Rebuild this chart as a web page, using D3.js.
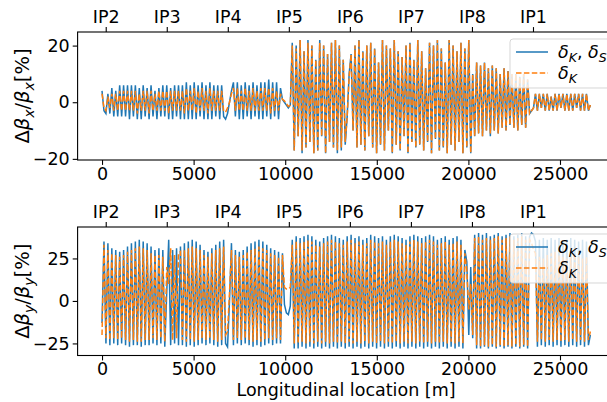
<!DOCTYPE html>
<html>
<head>
<meta charset="utf-8">
<script src="https://cdn.jsdelivr.net/npm/d3@7"></script>
<style>
  body { margin: 0; background: #fff; }
  text { font-family: "DejaVu Sans", sans-serif; fill: #000; }
</style>
</head>
<body>
<div id="container"></div>
<script>
const width = 607;
const height = 402;

// ring length in metres, samples are spread evenly over it
const ringLength = 26659;
const xTicks = [0, 5000, 10000, 15000, 20000, 25000];
const ipNames = ["IP2", "IP3", "IP4", "IP5", "IP6", "IP7", "IP8", "IP1"];
const ipPos = [202, 3534, 6866, 10198, 13530, 16862, 20194, 23526];
const yTicksX = [-20, 0, 20];
const yTicksY = [-25, 0, 25];

// horizontal beta-beating [%], δK, δS
const betaXKS = [
  4, -3, -4, 3, -4, 5, -5, 4, -5, 6,
  -5, 6, -5, 6, -6, 6, -5, 6, -6, 5,
  -6, 6, -5, 5, -6, 6, -5, 4, -6, 5,
  -5, 6, -5, 6, -6, 5, -6, 6, -5, 6,
  -6, 6, -6, 7, -6, 6, -6, 7, -6, 6,
  -5, 7, -6, 6, -6, 7, -6, 6, -5, 6,
  -6, 6, -5, -6, -4, 0, 4, 7, -5, 7,
  -6, 6, -6, 7, -5, 6, -6, 7, -5, 6,
  -6, 7, -6, 7, -5, 8, -6, 7, -5, 7,
  -6, 5, 1, 0, -1, -2, -1, 21, -17, 20,
  -12, 22, -18, 18, -16, 22, -14, 20, -18, 15,
  -17, 22, -12, 20, -18, 17, -14, 21, -16, 22,
  -18, 20, -17, 15, -15, -5, 10, 17, -10, 20,
  -16, 22, -15, 18, -17, 20, -12, 21, -16, 19,
  -18, 14, -15, 22, -17, 20, -10, 19, -18, 22,
  -15, 18, -17, 16, -12, 20, -18, 21, -14, 15,
  -16, 22, -15, 18, -17, 12, -14, 21, -18, 20,
  -13, 22, -17, 19, -16, 14, -18, 22, -15, 20,
  -17, 18, -14, 21, -18, 19, -16, 22, -18, 10,
  -12, 14, -11, 13, -12, 14, -10, 12, -12, 13,
  -10, 12, -11, 10, -9, 12, -10, 11, -8, 10,
  -9, 10, -10, 9, -8, 10, -9, 8, -4, -3,
  -2, 3, -3, 3, -2, 3, -3, 3, -3, 2,
  -3, 3, -3, 3, -2, 3, -3, 3, -3, 3,
  -3, 3, -2, 3, -3, 3, -3, 3, -3, -1
];

// horizontal beta-beating [%], δK only
const betaXK = [
  3, -2, -3, 2, -2, 3, -3, 3, -3, 4,
  -3, 4, -3, 4, -3, 4, -3, 4, -4, 3,
  -3, 4, -3, 4, -4, 4, -3, 3, -3, 4,
  -3, 4, -3, 4, -4, 4, -3, 4, -3, 4,
  -3, 4, -4, 5, -3, 4, -3, 5, -4, 4,
  -3, 5, -3, 4, -4, 5, -3, 4, -3, 4,
  -3, 4, -3, -3.5, -2, 0, 3, 5, -3, 5,
  -3, 4, -3, 5, -3, 4, -3, 5, -3, 4,
  -3, 5, -3, 5, -3, 5, -4, 5, -3, 4,
  -3, 3, 1, 0.5, -0.5, -1.5, -1, 20, -17, 19,
  -12, 22, -17, 18, -16, 21, -14, 20, -18, 15,
  -17, 21, -12, 20, -18, 17, -14, 21, -16, 22,
  -17, 20, -16, 15, -14, -5, 9, 17, -10, 20,
  -16, 22, -15, 18, -17, 20, -12, 21, -16, 19,
  -18, 14, -15, 22, -17, 20, -10, 19, -18, 22,
  -15, 18, -17, 16, -12, 20, -18, 21, -14, 15,
  -16, 22, -15, 18, -17, 12, -14, 21, -18, 20,
  -13, 22, -17, 19, -16, 14, -18, 22, -15, 20,
  -17, 18, -14, 21, -18, 19, -16, 22, -18, 10,
  -12, 14, -11, 13, -12, 14, -10, 12, -11, 13,
  -10, 12, -11, 10, -9, 12, -10, 11, -8, 10,
  -9, 10, -10, 9, -8, 10, -9, 8, -4, -3,
  -2, 3, -3, 3, -2, 3, -3, 3, -3, 2,
  -3, 3, -3, 3, -2, 3, -3, 3, -3, 3,
  -3, 3, -2, 3, -3, 3, -3, 3, -3, -1
];

// vertical beta-beating [%], δK, δS
const betaYKS = [
  -13, 35, -25, 34, -26, 31, -25, 30, -26, 29,
  -25, 30, -26, 32, -27, 34, -26, 35, -26, 36,
  -27, 35, -26, 34, -26, 32, -25, 30, -26, 31,
  -25, 30, -27, 5, 36, -26, 30, -25, 31, -26,
  32, -26, 34, -27, 35, -26, 36, -27, 35, -26,
  33, -25, 30, -26, 29, -25, 31, -26, 33, -27,
  35, -26, 36, -25, -27, 0, 34, -26, 30, -25,
  29, -26, 30, -25, 32, -26, 34, -27, 35, -26,
  36, -27, 35, -26, 33, -25, 31, -26, 30, -25,
  29, -25, 28, -2, -7, -8, -3, 36, -28, 38,
  -28, 37, -27, 38, -28, 39, -27, 38, -28, 36,
  -27, 35, -28, 37, -27, 38, -28, 39, -27, 38,
  -28, 37, -27, 36, -28, 38, -27, 39, -28, 37,
  -27, 38, -28, 36, -27, 37, -28, 39, -27, 38,
  -28, 37, -27, 38, -28, 36, -27, 38, -28, 39,
  -27, 38, -28, 37, -27, 36, -28, 38, -27, 39,
  -28, 38, -27, 37, -28, 38, -27, 39, -28, 38,
  -27, 36, -28, 37, -27, 38, -28, 36, -27, 37,
  -28, 38, -27, 36, -28, 30, 23, -20, 20, -22,
  39, -28, 40, -28, 39, -27, 40, -28, 38, -27,
  39, -28, 40, -27, 38, -28, 39, -27, 40, -28,
  38, -27, 39, -28, 40, -27, 38, -28, 38, 40,
  39, 35, -27, 36, -26, 37, -27, 36, -26, 37,
  -27, 36, -26, 37, -27, 35, -26, 36, -27, 37,
  -26, 36, -27, 35, -26, 36, -27, 35, -26, -20
];

// vertical beta-beating [%], δK only
const betaYK = [
  -20, 33, -22, 30, -23, 28, -22, 27, -23, 26,
  -22, 27, -23, 29, -24, 30, -23, 31, -24, 32,
  -24, 31, -23, 30, -23, 28, -22, 27, -23, 27,
  -22, 26, -24, 20, 10, 31, -23, 27, -22, 28,
  29, -23, 30, -24, 31, -23, 32, -24, 31, -23,
  30, -22, 27, -23, 26, -22, 28, -23, 30, -24,
  31, -23, 32, -20, -18, 5, 30, -23, 27, -22,
  26, -23, 27, -22, 29, -23, 30, -24, 31, -23,
  32, -24, 31, -23, 30, -22, 28, -23, 27, -22,
  26, -23, 27, 8, 7, 7, 8, 33, -25, 35,
  -25, 34, -24, 35, -25, 36, -24, 35, -25, 33,
  -24, 32, -25, 34, -24, 35, -25, 36, -24, 35,
  -25, 34, -24, 33, -25, 35, -24, 36, -25, 34,
  -24, 35, -25, 33, -24, 34, -25, 36, -24, 35,
  -25, 34, -24, 35, -25, 33, -24, 35, -25, 36,
  -24, 35, -25, 34, -24, 33, -25, 35, -24, 36,
  -25, 35, -24, 34, -25, 35, -24, 36, -25, 35,
  -24, 33, -25, 34, -24, 35, -25, 33, -24, 34,
  -25, 35, -24, 33, -25, 28, 18, -5, 10, -20,
  37, -26, 38, -27, 36, -26, 37, -27, 36, -26,
  37, -27, 38, -26, 36, -27, 37, -26, 38, -27,
  36, -26, 37, -27, 38, -26, 36, -27, 36, 34,
  30, 28, -24, 26, -23, 25, -24, 27, -23, 28,
  -24, 29, -23, 27, -24, 26, -23, 25, -24, 27,
  -23, 28, -24, 26, -23, 25, -24, 26, -23, -18
];

const blue = "#1f77b4";
const orange = "#ff7f0e";
const fontSize = 17.5;

const svg = d3.select("#container")
    .append("svg")
    .attr("width", width)
    .attr("height", height)
    .attr("viewBox", [0, 0, width, height]);

const x = d3.scaleLinear()
    .domain([-1333, 27992])
    .range([77.6, 614.8]);

const step = ringLength / (betaXKS.length - 1);

function drawPanel(id, top, bottom, yDomain, yTicks, ks, k, plane) {
    const y = d3.scaleLinear().domain(yDomain).range([bottom, top]);
    const g = svg.append("g");

    g.append("clipPath").attr("id", "clip" + id)
        .append("rect")
        .attr("x", x.range()[0]).attr("y", top)
        .attr("width", x.range()[1] - x.range()[0]).attr("height", bottom - top);

    const line = d3.line()
        .x((d, i) => x(i * step))
        .y(d => y(d));

    const plot = g.append("g").attr("clip-path", `url(#clip${id})`);
    plot.append("path")
        .attr("d", line(ks))
        .attr("fill", "none")
        .attr("stroke", blue)
        .attr("stroke-width", 1.5);
    plot.append("path")
        .attr("d", line(k))
        .attr("fill", "none")
        .attr("stroke", orange)
        .attr("stroke-width", 1.5)
        .attr("stroke-dasharray", "5.5,2.4");

    // bottom axis
    g.append("g")
        .attr("transform", `translate(0,${bottom})`)
        .call(d3.axisBottom(x).tickValues(xTicks).tickFormat(d => d)
            .tickSize(4.9).tickSizeOuter(0).tickPadding(2.4));
    // top axis with IP names
    g.append("g")
        .attr("transform", `translate(0,${top})`)
        .call(d3.axisTop(x).tickValues(ipPos).tickFormat((d, i) => ipNames[i])
            .tickSize(4.9).tickSizeOuter(0).tickPadding(4.5));
    // left axis
    g.append("g")
        .attr("transform", `translate(${x.range()[0]},0)`)
        .call(d3.axisLeft(y).tickValues(yTicks).tickFormat(d => d < 0 ? "\u2212" + (-d) : d)
            .tickSize(4.9).tickSizeOuter(0).tickPadding(3));

    g.selectAll(".domain").remove();
    g.selectAll(".tick line").attr("stroke", "#000").attr("stroke-width", 1.1);
    g.selectAll(".tick text").attr("font-size", fontSize)
        .attr("font-family", "DejaVu Sans").attr("fill", "#000");

    g.append("rect")
        .attr("x", x.range()[0]).attr("y", top)
        .attr("width", x.range()[1] - x.range()[0]).attr("height", bottom - top)
        .attr("fill", "none").attr("stroke", "#000").attr("stroke-width", 1.1);

    // y label: Δβ_p/β_p[%]
    const yl = g.append("text")
        .attr("transform", `translate(29,${(top + bottom) / 2}) rotate(-90)`)
        .attr("text-anchor", "middle")
        .attr("font-size", 19.5);
    yl.append("tspan").text("Δ");
    yl.append("tspan").attr("font-style", "italic").text("β");
    yl.append("tspan").attr("font-style", "italic").attr("font-size", 14).attr("dy", 4.5).text(plane);
    yl.append("tspan").attr("dy", -4.5).text("/");
    yl.append("tspan").attr("font-style", "italic").text("β");
    yl.append("tspan").attr("font-style", "italic").attr("font-size", 14).attr("dy", 4.5).text(plane);
    yl.append("tspan").attr("dy", -4.5).text("[%]");

    // legend
    const lx = 510, ly = top + 7;
    const leg = g.append("g");
    leg.append("rect")
        .attr("x", lx).attr("y", ly).attr("width", 110).attr("height", 49)
        .attr("rx", 3)
        .attr("fill", "#fff").attr("fill-opacity", 0.8)
        .attr("stroke", "#ccc").attr("stroke-opacity", 0.8);
    const entries = [
        { color: blue, dash: null, labels: [["δ", "K"], ["δ", "S"]] },
        { color: orange, dash: "5.5,2.4", labels: [["δ", "K"]] }
    ];
    entries.forEach((e, i) => {
        const yy = ly + 13 + i * 21;
        leg.append("line")
            .attr("x1", lx + 6).attr("x2", lx + 38)
            .attr("y1", yy).attr("y2", yy)
            .attr("stroke", e.color).attr("stroke-width", 1.5)
            .attr("stroke-dasharray", e.dash);
        const t = leg.append("text")
            .attr("x", lx + 48).attr("y", yy + 6)
            .attr("font-size", fontSize);
        e.labels.forEach((lab, j) => {
            if (j > 0) t.append("tspan").attr("dy", -4).text(", ");
            t.append("tspan").attr("font-style", "italic").text(lab[0]);
            t.append("tspan").attr("font-style", "italic").attr("font-size", 12.5).attr("dy", 4).text(lab[1]);
        });
    });
}

drawPanel("x", 32, 160, [-20.4, 24.8], yTicksX, betaXKS, betaXK, "x");
drawPanel("y", 227, 355.5, [-32.1, 43.5], yTicksY, betaYKS, betaYK, "y");

svg.append("text")
    .attr("x", 346).attr("y", 395.5)
    .attr("text-anchor", "middle")
    .attr("font-size", fontSize)
    .text("Longitudinal location [m]");
</script>
</body>
</html>
